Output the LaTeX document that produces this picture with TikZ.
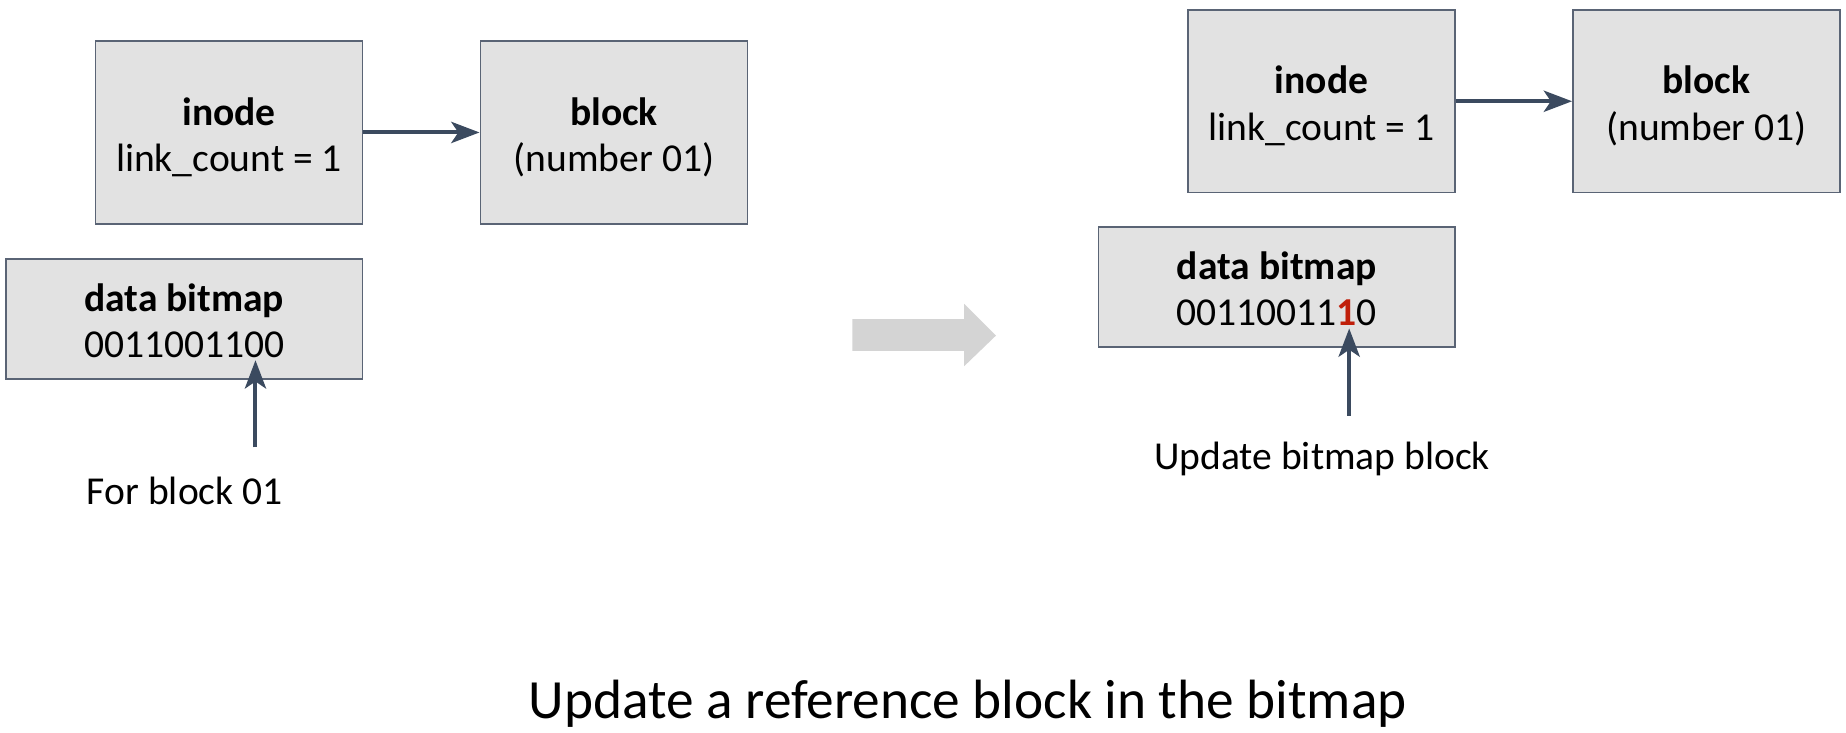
\documentclass[tikz,border=0pt]{standalone}
\usepackage{fontspec}
\setmainfont{Carlito}
\usetikzlibrary{arrows.meta}
\definecolor{boxfill}{HTML}{E2E2E2}
\definecolor{boxline}{HTML}{5A6475}
\definecolor{arr}{HTML}{3B4A5F}
\definecolor{bigarr}{HTML}{D4D4D4}
\definecolor{redbit}{HTML}{C01F0A}
\newcommand\twolines[3]{\rule{0pt}{#1}\smash{#2}\\\smash{#3}}
\begin{document}
\begin{tikzpicture}[x=0.5pt,y=-0.5pt,
  box/.style={draw=boxline, line width=0.7pt, fill=boxfill, align=center,
    inner sep=0pt, font=\fontsize{16.8}{19.8}\selectfont},
  bigbox/.style={box, minimum width=113.5pt, minimum height=77.5pt},
  bitbox/.style={box, minimum width=151.5pt, minimum height=51pt},
  conn/.style={draw=arr, line width=1.7pt, -{Stealth[length=12pt,width=9pt,inset=3pt]}},
  lbl/.style={font=\fontsize{16.8}{20.2}\selectfont, inner sep=0pt}]
\useasboundingbox (0,0) rectangle (1568,622.6);
% left
\node[bigbox] (inodeL) at (194.5,112.5) {\twolines{13.5pt}{\textbf{inode}}{link\_count = 1}};
\node[bigbox] (blockL) at (521.5,112.5) {\twolines{13.5pt}{\textbf{block}}{(number 01)}};
\node[bitbox] (bitL) at (156.5,271) {\twolines{13pt}{\textbf{data bitmap}}{0011001100}};
\draw[conn] (inodeL.east) -- (blockL.west);
\node[lbl] (forL) at (157,417) {For block 01};
\coordinate (sL) at (217,380);
\coordinate (tL) at (217,306);
\draw[conn] (sL) -- (tL);
% big arrow
\fill[bigarr] (724,271) -- (819,271) -- (819,258) -- (846,285) -- (819,311) -- (819,298) -- (724,298) -- cycle;
% right
\node[bigbox] (inodeR) at (1122.5,86) {\twolines{13.5pt}{\textbf{inode}}{link\_count = 1}};
\node[bigbox] (blockR) at (1449.5,86) {\twolines{13.5pt}{\textbf{block}}{(number 01)}};
\node[bitbox] (bitR) at (1084.5,244) {\twolines{13pt}{\textbf{data bitmap}}{00110011\textcolor{redbit}{\textbf{1}}0}};
\draw[conn] (inodeR.east) -- (blockR.west);
\node[lbl] (updR) at (1123,390) {Update bitmap block};
\coordinate (sR) at (1146,353);
\coordinate (tR) at (1146,279);
\draw[conn] (sR) -- (tR);
% title
\node[font=\fontsize{23.5}{28}\selectfont, inner sep=0pt] (title) at (822,598) {Update a reference block in the bitmap};
\end{tikzpicture}
\end{document}
